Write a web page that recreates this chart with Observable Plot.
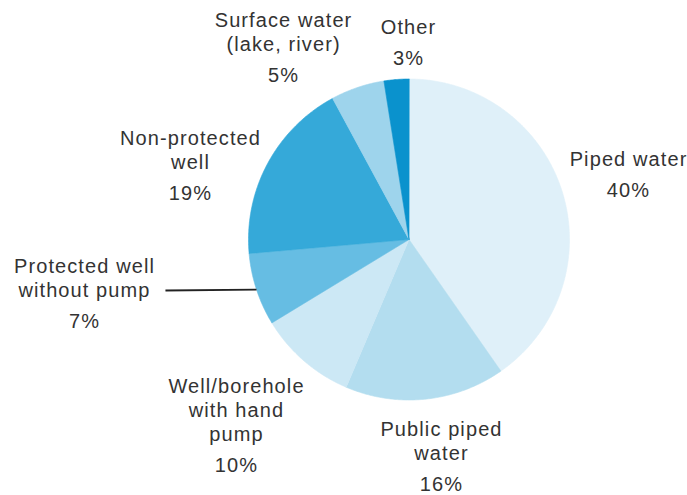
<!DOCTYPE html>
<html><head><meta charset="utf-8">
<script src="https://cdn.jsdelivr.net/npm/d3@7"></script>
<script src="https://cdn.jsdelivr.net/npm/@observablehq/plot@0.6"></script>
<style>html,body{margin:0;padding:0;background:#fff;}</style>
</head><body><div id="chart"></div>
<script>
// ---- data ----
const categories = ["Piped water", "Public piped\nwater", "Well/borehole\nwith hand\npump", "Protected well\nwithout pump", "Non-protected\nwell", "Surface water\n(lake, river)", "Other"];
const shares = [40.3, 16.1, 9.9, 7.3, 18.5, 5.4, 2.5];
const shareLabels = ["40%", "16%", "10%", "7%", "19%", "5%", "3%"];
const sliceColors = ["#dff0f9", "#b3ddef", "#cce8f5", "#66bde3", "#35a9d9", "#9ed4ec", "#0a92cd"];

// ---- layout ----
const W = 687, H = 495, cx = 408.5, cy = 239, r = 160.5;
const labelRadius = 1.3 * r;
const labelNudge = [[20.5, -10.4], [10.9, 12.5], [-36, 43.2], [-126.3, -7.1], [-34.7, 27.8], [-58.5, 9.6], [15.9, 3]];
const pctGap = 31;
const leaderIndex = 3, leaderStart = [81, -7];

const arcs = d3.pie().sort(null).value(d => d)(shares);
const pt = (a, R) => [cx + R * Math.sin(a), cy - R * Math.cos(a)];

const slicePts = [];
arcs.forEach((a, i) => {
  const n = Math.max(4, Math.ceil((a.endAngle - a.startAngle) / (Math.PI / 360)));
  slicePts.push({k: i, x: cx, y: cy, c: sliceColors[i]});
  for (let j = 0; j <= n; j++) {
    const t = a.startAngle + (a.endAngle - a.startAngle) * j / n;
    const [x, y] = pt(t, r);
    slicePts.push({k: i, x, y, c: sliceColors[i]});
  }
});

const labels = arcs.map((a, i) => {
  const mid = (a.startAngle + a.endAngle) / 2;
  const [x, y] = pt(mid, labelRadius);
  return {name: categories[i], pct: shareLabels[i], x: x + labelNudge[i][0], y: y + labelNudge[i][1], mid};
});

const L = labels[leaderIndex];
const leaderEnd = pt(L.mid, r);
const leader = [
  {x: L.x + leaderStart[0], y: L.y + leaderStart[1]},
  {x: leaderEnd[0], y: leaderEnd[1]}
];

const font = "'Liberation Sans', Arial, sans-serif";
const chart = Plot.plot({
  width: W, height: H,
  margin: 0,
  x: {domain: [0, W], range: [0, W], axis: null},
  y: {domain: [0, H], range: [0, H], axis: null},
  style: {fontFamily: font, letterSpacing: "1.1px", background: "#fff"},
  marks: [
    Plot.line(slicePts, {x: "x", y: "y", z: "k", fill: "c", stroke: "c", strokeWidth: 0.6, curve: "linear-closed"}),
    Plot.line(leader, {x: "x", y: "y", stroke: "#222", strokeWidth: 1.8, strokeLinecap: "butt"}),
    Plot.text(labels, {x: "x", y: "y", text: "name", fontSize: 20, fill: "#333", lineAnchor: "bottom", lineHeight: 1.2, textAnchor: "middle"}),
    Plot.text(labels, {x: "x", y: d => d.y + pctGap, text: "pct", fontSize: 20, fill: "#333", lineAnchor: "bottom", textAnchor: "middle"})
  ]
});
document.getElementById("chart").appendChild(chart);
</script>
</body></html>
